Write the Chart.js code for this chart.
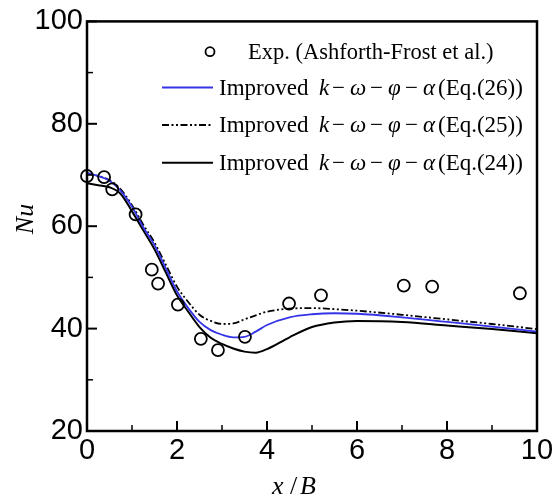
<!DOCTYPE html>
<html><head><meta charset="utf-8">
<script src="https://cdn.jsdelivr.net/npm/chart.js@4.4.1/dist/chart.umd.min.js"></script>
<style>html,body{margin:0;padding:0;background:#fff;} #wrap{width:557px;height:499px;}</style>
</head><body><div id="wrap"><canvas id="c" width="557" height="499"></canvas></div>
<script>
// ---- data ----
const expX  = [0.0, 0.38, 0.56, 1.08, 1.44, 1.58, 2.02, 2.53, 2.91, 3.51, 4.49, 5.20, 7.04, 7.67, 9.62];
const expNu = [69.8, 69.6, 67.2, 62.3, 51.5, 48.8, 44.7, 38.0, 35.8, 38.4, 44.9, 46.5, 48.4, 48.2, 46.9];

const curveX = [0, 0.25, 0.5, 0.75, 1.0, 1.25, 1.5, 1.75, 2.0, 2.25, 2.5, 2.75, 3.0, 3.25, 3.5, 3.75, 4.0, 4.5, 5.0, 5.5, 6.0, 7.0, 8.0, 9.0, 10.0];
const nuEq26 = [70.4, 69.8, 68.9, 66.9, 63.8, 59.8, 56.3, 51.8, 47.3, 44.0, 41.3, 39.7, 38.8, 38.3, 38.4, 39.4, 40.7, 42.2, 42.8, 43.0, 42.9, 42.2, 41.3, 40.4, 39.4];
const nuEq25 = [70.3, 69.8, 69.0, 67.2, 64.1, 60.3, 56.8, 52.5, 48.2, 45.2, 42.7, 41.5, 40.9, 41.0, 41.8, 42.6, 43.3, 43.9, 44.0, 43.8, 43.5, 42.7, 41.8, 40.9, 39.9];
const nuEq24 = [68.4, 68.0, 67.6, 66.3, 62.9, 59.2, 55.5, 51.0, 46.5, 43.3, 40.3, 38.2, 37.0, 36.1, 35.5, 35.3, 36.0, 38.3, 40.3, 41.2, 41.5, 41.3, 40.6, 39.9, 39.1];

const xTickValues = [0, 2, 4, 6, 8, 10];
const yTickValues = [20, 40, 60, 80, 100];
const xMinorValues = [1, 3, 5, 7, 9];
const yMinorValues = [30, 50, 70, 90];

const expLabel = 'Exp. (Ashforth-Frost et al.)';
const modelName = 'Improved';
const modelSymbols = ['k', 'ω', 'φ', 'α'];
const eqLabels = ['(Eq.(26))', '(Eq.(25))', '(Eq.(24))'];
const xTitle = ['x', '/', 'B'];
const yTitle = 'Nu';

// ---- styling ----
const BLUE = '#3434e6';
const SERIF = '"Liberation Serif", "Times New Roman", serif';
const SANS = '"Liberation Sans", Arial, sans-serif';
const DASHDOT = [7, 2.5, 2, 2.5, 2, 2.5];

const toPts = (xs, ys) => xs.map((x, i) => ({x: x, y: ys[i]}));

const decor = {
  id: 'decor',
  afterDatasetsDraw(chart) {
    const ctx = chart.ctx, a = chart.chartArea, xs = chart.scales.x, ys = chart.scales.y;
    ctx.save();
    ctx.strokeStyle = '#000';
    // inward ticks
    ctx.lineWidth = 2;
    xTickValues.forEach(v => { const p = xs.getPixelForValue(v); ctx.beginPath(); ctx.moveTo(p, a.bottom); ctx.lineTo(p, a.bottom - 10); ctx.stroke(); });
    yTickValues.forEach(v => { const p = ys.getPixelForValue(v); ctx.beginPath(); ctx.moveTo(a.left, p); ctx.lineTo(a.left + 10, p); ctx.stroke(); });
    ctx.lineWidth = 1.5;
    xMinorValues.forEach(v => { const p = xs.getPixelForValue(v); ctx.beginPath(); ctx.moveTo(p, a.bottom); ctx.lineTo(p, a.bottom - 6); ctx.stroke(); });
    yMinorValues.forEach(v => { const p = ys.getPixelForValue(v); ctx.beginPath(); ctx.moveTo(a.left, p); ctx.lineTo(a.left + 6, p); ctx.stroke(); });
    // frame
    ctx.lineWidth = 2.5;
    ctx.strokeRect(a.left, a.top, a.right - a.left, a.bottom - a.top);

    // legend
    ctx.fillStyle = '#000';
    ctx.textBaseline = 'middle';
    const rows = [51.7, 87.5, 125, 162.7];
    ctx.lineWidth = 1.8;
    ctx.beginPath(); ctx.arc(210, rows[0], 4.5, 0, Math.PI * 2); ctx.stroke();
    ctx.font = '22.5px ' + SERIF;
    ctx.textAlign = 'left';
    ctx.fillText(expLabel, 248, rows[0] + 1);
    const styles = [
      {c: BLUE, w: 1.8, d: []},
      {c: '#000', w: 1.8, d: DASHDOT},
      {c: '#000', w: 2, d: []}
    ];
    const tx = 219;
    const symOff = [100, 131, 169, 204];
    const minusOff = [113, 151, 186];
    for (let i = 0; i < 3; i++) {
      const yy = rows[i + 1];
      ctx.strokeStyle = styles[i].c; ctx.lineWidth = styles[i].w; ctx.setLineDash(styles[i].d);
      ctx.beginPath(); ctx.moveTo(162, yy); ctx.lineTo(213, yy); ctx.stroke();
      ctx.setLineDash([]);
      ctx.font = '23px ' + SERIF;
      ctx.fillText(modelName, tx, yy + 1);
      minusOff.forEach(o => ctx.fillText('\u2212', tx + o, yy + 1));
      ctx.fillText(eqLabels[i], tx + 219, yy + 1);
      ctx.font = 'italic 23px ' + SERIF;
      modelSymbols.forEach((s, j) => ctx.fillText(s, tx + symOff[j], yy + 1));
    }

    // axis titles
    ctx.textBaseline = 'alphabetic';
    ctx.font = 'italic 26px ' + SERIF;
    ctx.fillText(xTitle[0], 272, 494);
    ctx.fillText(xTitle[2], 300, 494);
    ctx.font = '26px ' + SERIF;
    ctx.fillText(xTitle[1], 290, 494);
    ctx.save();
    ctx.translate(33, 219);
    ctx.rotate(-Math.PI / 2);
    ctx.textAlign = 'center';
    ctx.font = 'italic 26px ' + SERIF;
    ctx.fillText(yTitle, 0, 0);
    ctx.restore();
    ctx.restore();
  }
};

new Chart(document.getElementById('c'), {
  type: 'line',
  data: {
    datasets: [
      {label: expLabel, data: toPts(expX, expNu), showLine: false, pointRadius: 6, pointBorderWidth: 1.8,
       pointBorderColor: '#000', pointBackgroundColor: 'rgba(0,0,0,0)', clip: false},
      {label: 'Eq.(26)', data: toPts(curveX, nuEq26), borderColor: BLUE, borderWidth: 1.8, pointRadius: 0, cubicInterpolationMode: 'monotone', fill: false},
      {label: 'Eq.(25)', data: toPts(curveX, nuEq25), borderColor: '#000', borderWidth: 1.8, borderDash: DASHDOT, pointRadius: 0, cubicInterpolationMode: 'monotone', fill: false},
      {label: 'Eq.(24)', data: toPts(curveX, nuEq24), borderColor: '#000', borderWidth: 2, pointRadius: 0, cubicInterpolationMode: 'monotone', fill: false}
    ]
  },
  options: {
    responsive: false, animation: false, devicePixelRatio: 1,
    layout: {padding: {top: 17, right: 20, left: 0, bottom: 0}},
    plugins: {legend: {display: false}, tooltip: {enabled: false}},
    scales: {
      x: {type: 'linear', min: 0, max: 10,
          ticks: {stepSize: 2, color: '#000', padding: 3, font: {family: SANS, size: 29}},
          grid: {display: false, drawTicks: false}, border: {display: false},
          afterFit(s) { s.height = 68; }},
      y: {type: 'linear', min: 20, max: 100,
          ticks: {stepSize: 20, color: '#000', padding: 4, font: {family: SANS, size: 29}},
          grid: {display: false, drawTicks: false}, border: {display: false},
          afterFit(s) { s.width = 87; }}
    }
  },
  plugins: [decor]
});
</script>
</body></html>
